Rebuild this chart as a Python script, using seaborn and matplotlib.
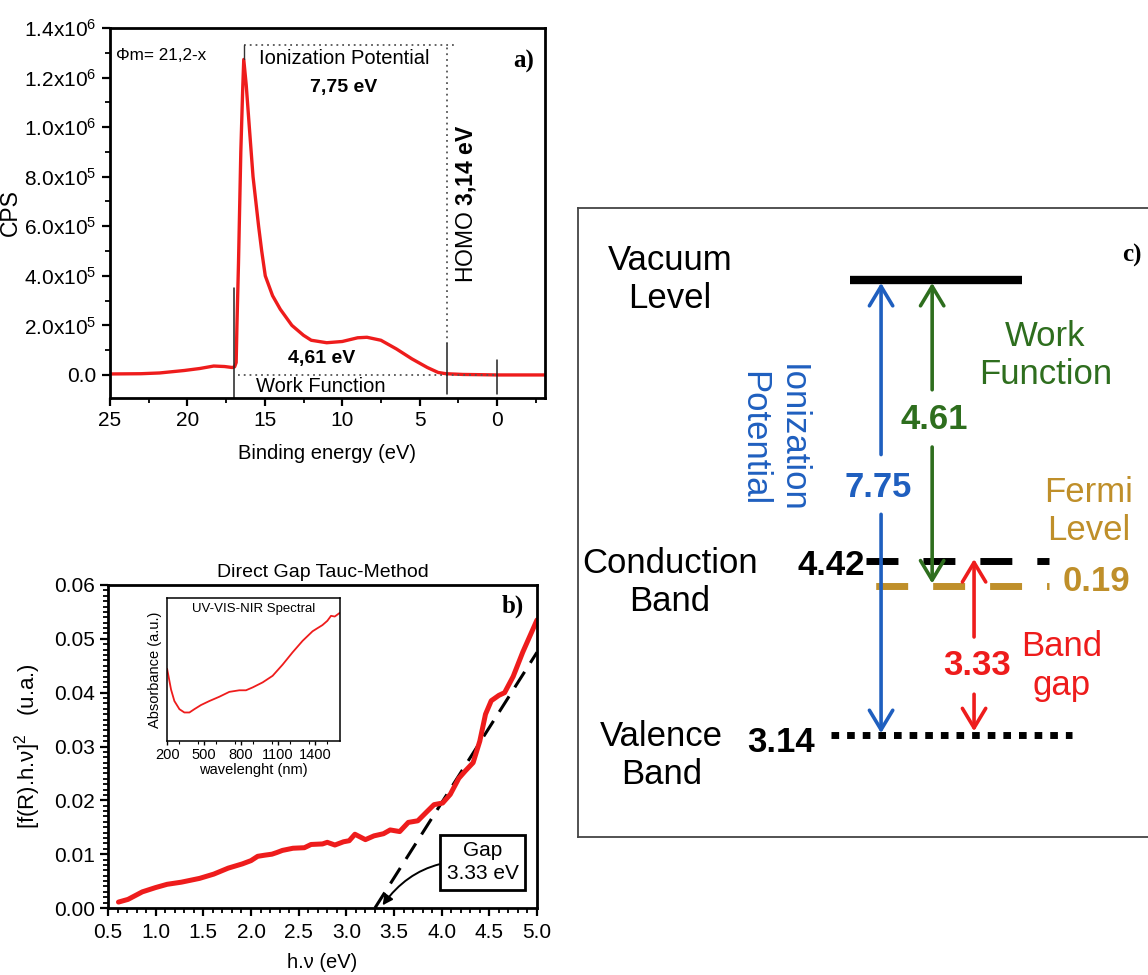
"""UPS spectrum, Tauc plot and energy-level diagram (three-panel figure)."""

import matplotlib

matplotlib.use("Agg")
import matplotlib.pyplot as plt
import pandas as pd
import seaborn as sns
from matplotlib import font_manager
from matplotlib.ticker import FuncFormatter, MultipleLocator

# ---------------------------------------------------------------- panel a data
BINDING_EV = [25, 23, 21.8, 20.2, 19.2, 18.3, 17.6, 17.1, 16.95, 16.85, 16.8, 16.7,
              16.55, 16.43, 16.36, 16.2, 16.0, 15.76, 15.4, 15.2, 14.97, 14.5, 14.0,
              13.25, 12.5, 12.0, 11.0, 10.0, 9.0, 8.4, 7.5, 6.5, 5.5, 4.5, 3.8, 3.3,
              2.2, 1.0, 0.0, -1.5, -3.1]
CPS_MILLION = [0.004, 0.005, 0.008, 0.018, 0.026, 0.036, 0.034, 0.030, 0.033, 0.05, 0.2,
               0.45, 0.90, 1.15, 1.273, 1.17, 1.00, 0.80, 0.60, 0.50, 0.40, 0.32, 0.265,
               0.20, 0.16, 0.14, 0.13, 0.135, 0.15, 0.152, 0.14, 0.105, 0.065, 0.03,
               0.01, 0.005, 0.002, 0.001, 0.0, 0.0, 0.0]
CUTOFF_EV = 16.98
PEAK_EV = 16.36
PEAK_CPS = 1.273
ONSET_EV = 3.23
FERMI_EV = 0.0
GUIDE_CPS = 1.333

# ---------------------------------------------------------------- panel b data
HV_EV = [0.61, 0.71, 0.86, 1.0, 1.12, 1.27, 1.46, 1.61, 1.76, 1.91, 2.0, 2.07, 2.14,
         2.22, 2.27, 2.33, 2.44, 2.56, 2.63, 2.75, 2.8, 2.88, 2.97, 3.03, 3.09, 3.2,
         3.29, 3.39, 3.46, 3.56, 3.65, 3.75, 3.84, 3.92, 4.01, 4.09, 4.18, 4.25, 4.33,
         4.4, 4.46, 4.52, 4.6, 4.66, 4.75, 4.85, 4.95, 5.0]
TAUC = [0.0011, 0.0016, 0.0030, 0.0038, 0.0044, 0.0048, 0.0055, 0.0063, 0.0074, 0.0082,
        0.0088, 0.0096, 0.0098, 0.0100, 0.0103, 0.0107, 0.0111, 0.0112, 0.0118, 0.0119,
        0.0122, 0.0117, 0.0123, 0.0125, 0.0137, 0.0127, 0.0134, 0.0138, 0.0145, 0.0142,
        0.0159, 0.0162, 0.0178, 0.0192, 0.0195, 0.0211, 0.0241, 0.0255, 0.0270, 0.0310,
        0.0360, 0.0385, 0.0395, 0.0400, 0.0430, 0.0475, 0.0515, 0.0535]
FIT_HV = [3.30, 5.00]
FIT_TAUC = [0.0, 0.0475]
GAP_EV = 3.33

WAVELENGTH_NM = [200, 232, 259, 300, 340, 381, 421, 475, 543, 624, 705, 786, 840, 894,
                 975, 1056, 1137, 1218, 1299, 1380, 1413, 1460, 1500, 1530, 1560, 1600]
ABSORBANCE = [0.505, 0.36, 0.28, 0.223, 0.20, 0.20, 0.223, 0.252, 0.28, 0.31, 0.344,
              0.355, 0.355, 0.375, 0.41, 0.456, 0.534, 0.62, 0.70, 0.767, 0.785, 0.81,
              0.84, 0.875, 0.87, 0.895]

# ---------------------------------------------------------------- panel c data
VACUUM_LABEL = "Vacuum\nLevel"
CB_LABEL = "Conduction\nBand"
VB_LABEL = "Valence\nBand"
CB_VALUE = "4.42"
VB_VALUE = "3.14"
FERMI_OFFSET = "0.19"
IP_VALUE = "7.75"
WF_VALUE = "4.61"
GAP_VALUE = "3.33"

# schematic layout of the diagram (axes fraction)
LEVEL_Y = {"vacuum": 0.886, "cb": 0.439, "fermi": 0.399, "vb": 0.162}
ARROW_X = {"ip": 0.528, "wf": 0.617, "gap": 0.690}

RED = "#ee1c1c"
BLUE = "#1f5fbf"
GREEN = "#2e6e1e"
GOLD = "#bf8f2a"

# the source figure has tall, condensed lettering in panels a and b
_installed = {f.name for f in font_manager.fontManager.ttflist}
NARROW = "Liberation Sans Narrow" if "Liberation Sans Narrow" in _installed else "Liberation Sans"
K = 1.2 if NARROW != "Liberation Sans" else 1.0


def cps_label(value, _pos):
    if abs(value) < 1e-9:
        return "0.0"
    if value >= 0.999:
        return f"{value:.1f}x10$^{{6}}$"
    return f"{value * 10:.1f}x10$^{{5}}$"


def htext(ax, x, y, s, size, **kw):
    kw.setdefault("ha", "center")
    kw.setdefault("va", "center")
    return ax.text(x, y, s, fontsize=size * K, family=NARROW, **kw)


def style_axes(ax):
    for spine in ax.spines.values():
        spine.set_linewidth(2)
    ax.tick_params(which="major", direction="out", length=6, width=1.6,
                   labelsize=15 * K, labelfontfamily=NARROW)
    ax.tick_params(which="minor", direction="out", length=3.5, width=1.3)
    ax.tick_params(top=False, right=False)


def draw_ups(ax):
    data = pd.DataFrame({"be": BINDING_EV, "cps": CPS_MILLION})
    sns.lineplot(data=data, x="be", y="cps", sort=False, estimator=None,
                 color=RED, lw=2.4, ax=ax)
    ax.set_xlim(25, -3.1)
    ax.set_ylim(-0.093, 1.4)
    ax.xaxis.set_major_locator(MultipleLocator(5))
    ax.xaxis.set_minor_locator(MultipleLocator(2.5))
    ax.yaxis.set_major_locator(MultipleLocator(0.2))
    ax.yaxis.set_minor_locator(MultipleLocator(0.1))
    ax.yaxis.set_major_formatter(FuncFormatter(cps_label))
    style_axes(ax)
    ax.set_xlabel("Binding energy (eV)", fontsize=14.5 * K, family=NARROW, labelpad=10)
    ax.set_ylabel("CPS", fontsize=16.5, labelpad=2)

    dot = dict(color="#555555", lw=1.3, linestyle=(0, (1, 2.2)))
    ax.plot([PEAK_EV, ONSET_EV - 0.6], [GUIDE_CPS, GUIDE_CPS], **dot)
    ax.plot([ONSET_EV, ONSET_EV], [0.126, GUIDE_CPS], **dot)
    ax.plot([16.75, FERMI_EV], [0, 0], **dot)
    ax.plot([PEAK_EV, PEAK_EV], [PEAK_CPS, GUIDE_CPS], color="#333333", lw=1)
    ax.plot([CUTOFF_EV, CUTOFF_EV], [-0.093, 0.349], color="#222222", lw=1.1)
    ax.plot([ONSET_EV, ONSET_EV], [-0.077, 0.126], color="#222222", lw=1.1)
    ax.plot([FERMI_EV, FERMI_EV], [-0.077, 0.062], color="#222222", lw=1.1)

    htext(ax, 24.6, 1.29, "Φm= 21,2-x", 12.3, ha="left")
    htext(ax, 9.9, 1.275, "Ionization Potential", 14.5)
    htext(ax, 9.9, 1.16, "7,75 eV", 14, fontweight="bold")
    ax.text(2.0, 0.69, r"HOMO $\mathbf{3{,}14\ eV}$", fontsize=16.5, rotation=90,
            ha="center", va="center")
    htext(ax, 11.3, 0.065, "4,61 eV", 14, fontweight="bold")
    htext(ax, 11.4, -0.045, "Work Function", 14.5)
    ax.text(-1.7, 1.265, "a)", fontsize=18, fontweight="bold", family="Liberation Serif",
            ha="center", va="center")


def draw_tauc(ax):
    data = pd.DataFrame({"hv": HV_EV, "tauc": TAUC})
    fit = pd.DataFrame({"hv": FIT_HV, "tauc": FIT_TAUC})
    sns.lineplot(data=fit, x="hv", y="tauc", sort=False, estimator=None, color="black",
                 lw=2.2, linestyle=(0, (6, 3.5)), ax=ax)
    sns.lineplot(data=data, x="hv", y="tauc", sort=False, estimator=None, color=RED,
                 lw=3.6, ax=ax)
    ax.set_xlim(0.5, 5.0)
    ax.set_ylim(0, 0.06)
    ax.xaxis.set_major_locator(MultipleLocator(0.5))
    ax.xaxis.set_minor_locator(MultipleLocator(0.1))
    ax.yaxis.set_major_locator(MultipleLocator(0.01))
    ax.yaxis.set_minor_locator(MultipleLocator(0.001))
    ax.yaxis.set_major_formatter(FuncFormatter(lambda v, _p: f"{v:.2f}"))
    style_axes(ax)
    ax.tick_params(axis="x", which="major", pad=5)
    ax.set_title("Direct Gap Tauc-Method", fontsize=14 * K, family=NARROW, pad=6)
    ax.set_xlabel("h.ν (eV)", fontsize=14.5 * K, family=NARROW, labelpad=8)
    ax.set_ylabel(r"[f(R).h.ν]$^{2}$   (u.a.)", fontsize=16, labelpad=8)
    ax.text(4.75, 0.056, "b)", fontsize=18, fontweight="bold", family="Liberation Serif",
            ha="center", va="center")
    ax.annotate("Gap\n3.33 eV", xy=(GAP_EV + 0.05, 0.0005), xytext=(4.43, 0.0085),
                fontsize=15 * K, family=NARROW, ha="center", va="center", linespacing=1.3,
                bbox=dict(boxstyle="square,pad=0.3", fc="white", ec="black", lw=2),
                arrowprops=dict(arrowstyle="-|>", color="black", lw=1.4,
                                connectionstyle="arc3,rad=0.3", shrinkA=0, shrinkB=0))

    inset = ax.inset_axes([1.12, 0.031, 1.81, 0.0266], transform=ax.transData)
    spec = pd.DataFrame({"nm": WAVELENGTH_NM, "abs": ABSORBANCE})
    sns.lineplot(data=spec, x="nm", y="abs", sort=False, estimator=None, color=RED,
                 lw=1.3, ax=inset)
    inset.set_xlim(200, 1600)
    inset.set_ylim(0, 1)
    inset.set_xticks([200, 500, 800, 1100, 1400])
    inset.xaxis.set_minor_locator(MultipleLocator(150))
    inset.set_yticks([])
    inset.tick_params(which="major", length=3, width=1, labelsize=10.5 * K, pad=2,
                      labelfontfamily=NARROW)
    inset.tick_params(which="minor", length=2, width=0.8)
    for spine in inset.spines.values():
        spine.set_linewidth(1.1)
    inset.set_xlabel("wavelenght (nm)", fontsize=10.5 * K, family=NARROW, labelpad=1)
    inset.set_ylabel("Absorbance (a.u.)", fontsize=10.5, labelpad=4)
    htext(inset, 0.5, 0.92, "UV-VIS-NIR Spectral", 9.5, transform=inset.transAxes)


def arrow(ax, x, y_from, y_to, color):
    ax.annotate("", xy=(x, y_to), xytext=(x, y_from),
                arrowprops=dict(arrowstyle="->,head_length=0.5,head_width=0.3",
                                mutation_scale=28, color=color, lw=2.6,
                                shrinkA=0, shrinkB=0))


def draw_diagram(ax):
    ax.set_xlim(0, 1)
    ax.set_ylim(0, 1)
    ax.set_xticks([])
    ax.set_yticks([])
    for spine in ax.spines.values():
        spine.set_color("#444444")
        spine.set_linewidth(1.3)

    y = LEVEL_Y
    ax.plot([0.474, 0.774], [y["vacuum"]] * 2, color="black", lw=6, solid_capstyle="butt")
    ax.plot([0.502, 0.820], [y["cb"]] * 2, color="black", lw=5,
            linestyle=(0, (4.6, 3.6)))
    ax.plot([0.502, 0.820], [y["fermi"]] * 2, color=GOLD, lw=5,
            linestyle=(-1.4, (4.6, 3.6)))
    ax.plot([0.44, 0.861], [y["vb"]] * 2, color="black", lw=5,
            linestyle=(0, (1.1, 1.15)))

    xi, xw, xg = ARROW_X["ip"], ARROW_X["wf"], ARROW_X["gap"]
    arrow(ax, xi, 0.608, y["vacuum"] - 0.005, BLUE)
    arrow(ax, xi, 0.513, y["vb"] + 0.003, BLUE)
    arrow(ax, xw, 0.711, y["vacuum"] - 0.005, GREEN)
    arrow(ax, xw, 0.62, y["fermi"] + 0.004, GREEN)
    arrow(ax, xg, 0.318, y["cb"] + 0.003, RED)
    arrow(ax, xg, 0.227, y["vb"] + 0.006, RED)

    fs = 25
    ax.text(0.160, y["vacuum"], VACUUM_LABEL, fontsize=fs, ha="center", va="center")
    ax.text(0.160, 0.405, CB_LABEL, fontsize=fs, ha="center", va="center")
    ax.text(0.146, 0.130, VB_LABEL, fontsize=fs, ha="center", va="center")
    ax.text(0.500, 0.432, CB_VALUE, fontsize=fs, fontweight="bold", ha="right", va="center")
    ax.text(0.412, 0.150, VB_VALUE, fontsize=fs, fontweight="bold", ha="right", va="center")
    ax.text(0.845, 0.406, FERMI_OFFSET, fontsize=fs, fontweight="bold", color=GOLD,
            ha="left", va="center")
    ax.text(0.890, 0.518, "Fermi\nLevel", fontsize=fs, color=GOLD, ha="center", va="center")
    ax.text(0.814, 0.766, "Work\nFunction", fontsize=fs, color=GREEN, ha="center",
            va="center")
    ax.text(0.340, 0.634, "Ionization\nPotential", fontsize=fs, color=BLUE, rotation=-90,
            ha="center", va="center")
    ax.text(xi - 0.005, 0.556, IP_VALUE, fontsize=fs, fontweight="bold", color=BLUE,
            ha="center", va="center")
    ax.text(xw + 0.003, 0.663, WF_VALUE, fontsize=fs, fontweight="bold", color=GREEN,
            ha="center", va="center")
    ax.text(0.695, 0.273, GAP_VALUE, fontsize=fs, fontweight="bold", color=RED,
            ha="center", va="center")
    ax.text(0.843, 0.272, "Band\ngap", fontsize=fs, color=RED, ha="center", va="center")
    ax.text(0.965, 0.925, "c)", fontsize=18, fontweight="bold", family="Liberation Serif",
            ha="center", va="center")


def main():
    sns.set_style("ticks")
    plt.rcParams["font.family"] = ["Liberation Sans", "DejaVu Sans"]
    plt.rcParams["mathtext.fontset"] = "custom"
    plt.rcParams["mathtext.rm"] = NARROW
    plt.rcParams["mathtext.it"] = "Liberation Sans:italic"
    plt.rcParams["mathtext.bf"] = "Liberation Sans:bold"
    for key in ("axes.edgecolor", "xtick.color", "ytick.color", "text.color",
                "axes.labelcolor"):
        plt.rcParams[key] = "black"

    W, H = 1148, 975
    fig = plt.figure(figsize=(W / 100, H / 100), dpi=100)

    def box(left, top, right, bottom):
        return [left / W, 1 - bottom / H, (right - left) / W, (bottom - top) / H]

    ax_a = fig.add_axes(box(110, 28, 545, 398))
    ax_b = fig.add_axes(box(108, 585, 537, 908))
    ax_c = fig.add_axes(box(578, 208, 1152, 837))

    draw_ups(ax_a)
    draw_tauc(ax_b)
    draw_diagram(ax_c)

    fig.savefig("out.png", dpi=100)
    plt.close(fig)


if __name__ == "__main__":
    main()
